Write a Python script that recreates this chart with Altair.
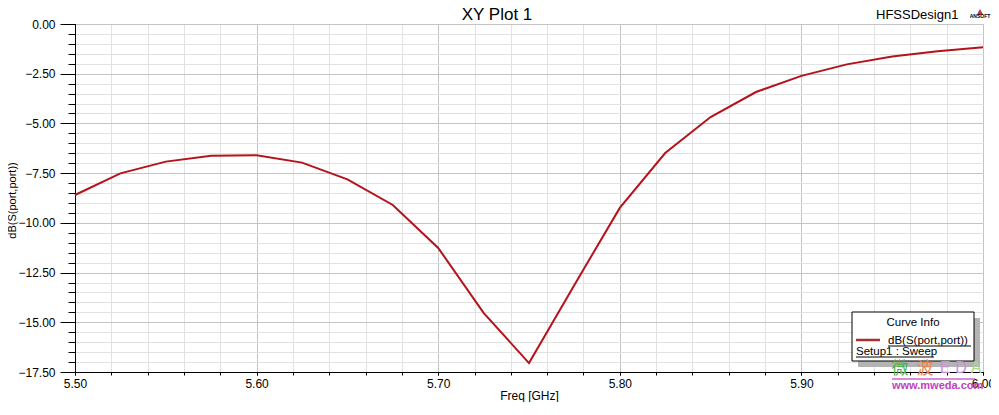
import altair as alt
import pandas as pd

# ---- data ----
freq_ghz = [5.500, 5.525, 5.550, 5.575, 5.600, 5.625, 5.650, 5.675, 5.700, 5.725,
            5.750, 5.775, 5.800, 5.825, 5.850, 5.875, 5.900, 5.925, 5.950, 5.975, 6.000]
db_s11 = [-8.60, -7.51, -6.92, -6.62, -6.60, -6.97, -7.81, -9.10, -11.26, -14.53,
          -17.05, -13.12, -9.25, -6.49, -4.68, -3.42, -2.61, -2.03, -1.64, -1.37, -1.17]

x_major = [5.50, 5.60, 5.70, 5.80, 5.90, 6.00]
x_minor = [5.50, 5.52, 5.54, 5.56, 5.58, 5.60, 5.62, 5.64, 5.66, 5.68, 5.70, 5.72, 5.74,
           5.76, 5.78, 5.80, 5.82, 5.84, 5.86, 5.88, 5.90, 5.92, 5.94, 5.96, 5.98, 6.00]
y_major = [0.0, -2.5, -5.0, -7.5, -10.0, -12.5, -15.0, -17.5]
y_minor = [0.0, -0.5, -1.0, -1.5, -2.0, -2.5, -3.0, -3.5, -4.0, -4.5, -5.0, -5.5, -6.0,
           -6.5, -7.0, -7.5, -8.0, -8.5, -9.0, -9.5, -10.0, -10.5, -11.0, -11.5, -12.0,
           -12.5, -13.0, -13.5, -14.0, -14.5, -15.0, -15.5, -16.0, -16.5, -17.0, -17.5]

df = pd.DataFrame({"freq": freq_ghz, "db": db_s11})

FONT = "Liberation Sans"
CJK = "Noto Sans CJK SC"
W, H = 908, 348
xs = alt.Scale(domain=[5.5, 6.0], nice=False, zero=False)
ys = alt.Scale(domain=[-17.5, 0.0], nice=False, zero=False)

minor = alt.Chart(df).mark_line(opacity=0).encode(
    x=alt.X("freq:Q", scale=xs, axis=alt.Axis(
        orient="bottom", values=x_minor, labels=False, title=None, grid=True,
        gridColor="#e2e2e2", gridWidth=1, tickSize=3, tickColor="black",
        domainColor="black")),
    y=alt.Y("db:Q", scale=ys, axis=alt.Axis(
        orient="left", values=y_minor, labels=False, title=None, grid=True,
        gridColor="#e2e2e2", gridWidth=1, tickSize=7, tickColor="black",
        domainColor="black")),
)

major = alt.Chart(df).mark_line(color="#b5121b", strokeWidth=2).encode(
    x=alt.X("freq:Q", scale=xs, axis=alt.Axis(
        orient="bottom", values=x_major, format=".2f", labelFlush=False,
        grid=True, gridColor="#c4c4c4", tickSize=3, tickColor="black",
        domainColor="black", labelPadding=3, labelFont=FONT, labelFontSize=12,
        labelColor="black", title="Freq [GHz]", titleFont=FONT, titleFontSize=12,
        titleFontWeight="normal", titleColor="black", titleY=27,
        titleBaseline="alphabetic")),
    y=alt.Y("db:Q", scale=ys, axis=alt.Axis(
        orient="left", values=y_major, format=".2f", labelFlush=False,
        grid=True, gridColor="#c4c4c4", tickSize=15, tickColor="black",
        domainColor="black", labelPadding=5, labelFont=FONT, labelFontSize=12,
        labelColor="black", title="dB(S(port,port))", titleFont=FONT,
        titleFontSize=11, titleFontWeight="normal", titleColor="black",
        titleX=-58, titleY=H / 2 + 2, titleAngle=-90, titleBaseline="bottom",
        titleAlign="center")),
)


def txt(s, x, y, size=11, color="black", align="left", weight="normal", font=FONT):
    return alt.Chart(pd.DataFrame({"t": [s]})).mark_text(
        font=font, fontSize=size, color=color, align=align, baseline="alphabetic",
        fontWeight=weight).encode(x=alt.value(x), y=alt.value(y), text="t:N")


def box(x1, x2, y1, y2, fill, stroke=None):
    kw = dict(fill=fill)
    if stroke:
        kw.update(stroke=stroke, strokeWidth=1)
    return alt.Chart(pd.DataFrame({"a": [0]})).mark_rect(**kw).encode(
        x=alt.value(x1), x2=alt.value(x2), y=alt.value(y1), y2=alt.value(y2))


def hline(x1, x2, y, color, width=1.0):
    return alt.Chart(pd.DataFrame({"a": [0]})).mark_rule(
        color=color, strokeWidth=width).encode(
        x=alt.value(x1), x2=alt.value(x2), y=alt.value(y))


title = txt("XY Plot 1", 422, -4, size=17, align="center")
design = txt("HFSSDesign1", 801, -5, size=13)
logo_tri = alt.Chart(pd.DataFrame({"a": [0]})).mark_point(
    shape="triangle-up", size=45, filled=True, color="#c03a3a", opacity=1).encode(
    x=alt.value(905), y=alt.value(-12))
logo_txt = txt("ANSOFT", 905, -6, size=5, align="center", weight="bold")

shadow = box(783, 905, 294, 343, "#b4b4b4")
legbox = box(777, 899, 288, 337, "white", "black")
leg_head = txt("Curve Info", 838, 302, size=11.5, align="center")
leg_line = hline(781, 805, 316, "#a83030", 2.5)
leg_name = txt("dB(S(port,port))", 813, 320, size=11.5)
leg_name_u = hline(813, 896, 322, "black", 1)
leg_setup = txt("Setup1 : Sweep", 781, 331, size=11.5)
leg_setup_u = hline(781, 859, 333, "black", 1)

wm1 = txt("微", 825, 350, size=17, color="#4cb050", align="center", font=CJK)
wm2 = txt("波", 850, 350, size=17, color="#f08050", align="center", font=CJK)
wm3 = txt("E", 870, 349, size=16, color="#c890d8", align="center")
wm4 = txt("D", 886, 349, size=16, color="#c890d8", align="center")
wm5 = txt("A", 901, 349, size=16, color="#a8d890", align="center")
wm_line = hline(817, 900, 355, "#d060d0", 1.5)
wm_url = txt("www.mweda.com", 817, 365, size=11, color="#c040c0", weight="bold")

chart = alt.layer(
    minor, major, title, design, logo_tri, logo_txt,
    shadow, legbox, leg_head, leg_line, leg_name, leg_name_u, leg_setup, leg_setup_u,
    wm1, wm2, wm3, wm4, wm5, wm_line, wm_url,
).resolve_axis(x="independent", y="independent").properties(
    width=W, height=H,
    autosize=alt.AutoSizeParams(type="none"),
    padding={"left": 67, "top": 16, "right": 8, "bottom": 30},
    background="white",
).configure_view(stroke="black", strokeWidth=1)

chart.save("out.html", embed_options={"renderer": "svg", "actions": False})
